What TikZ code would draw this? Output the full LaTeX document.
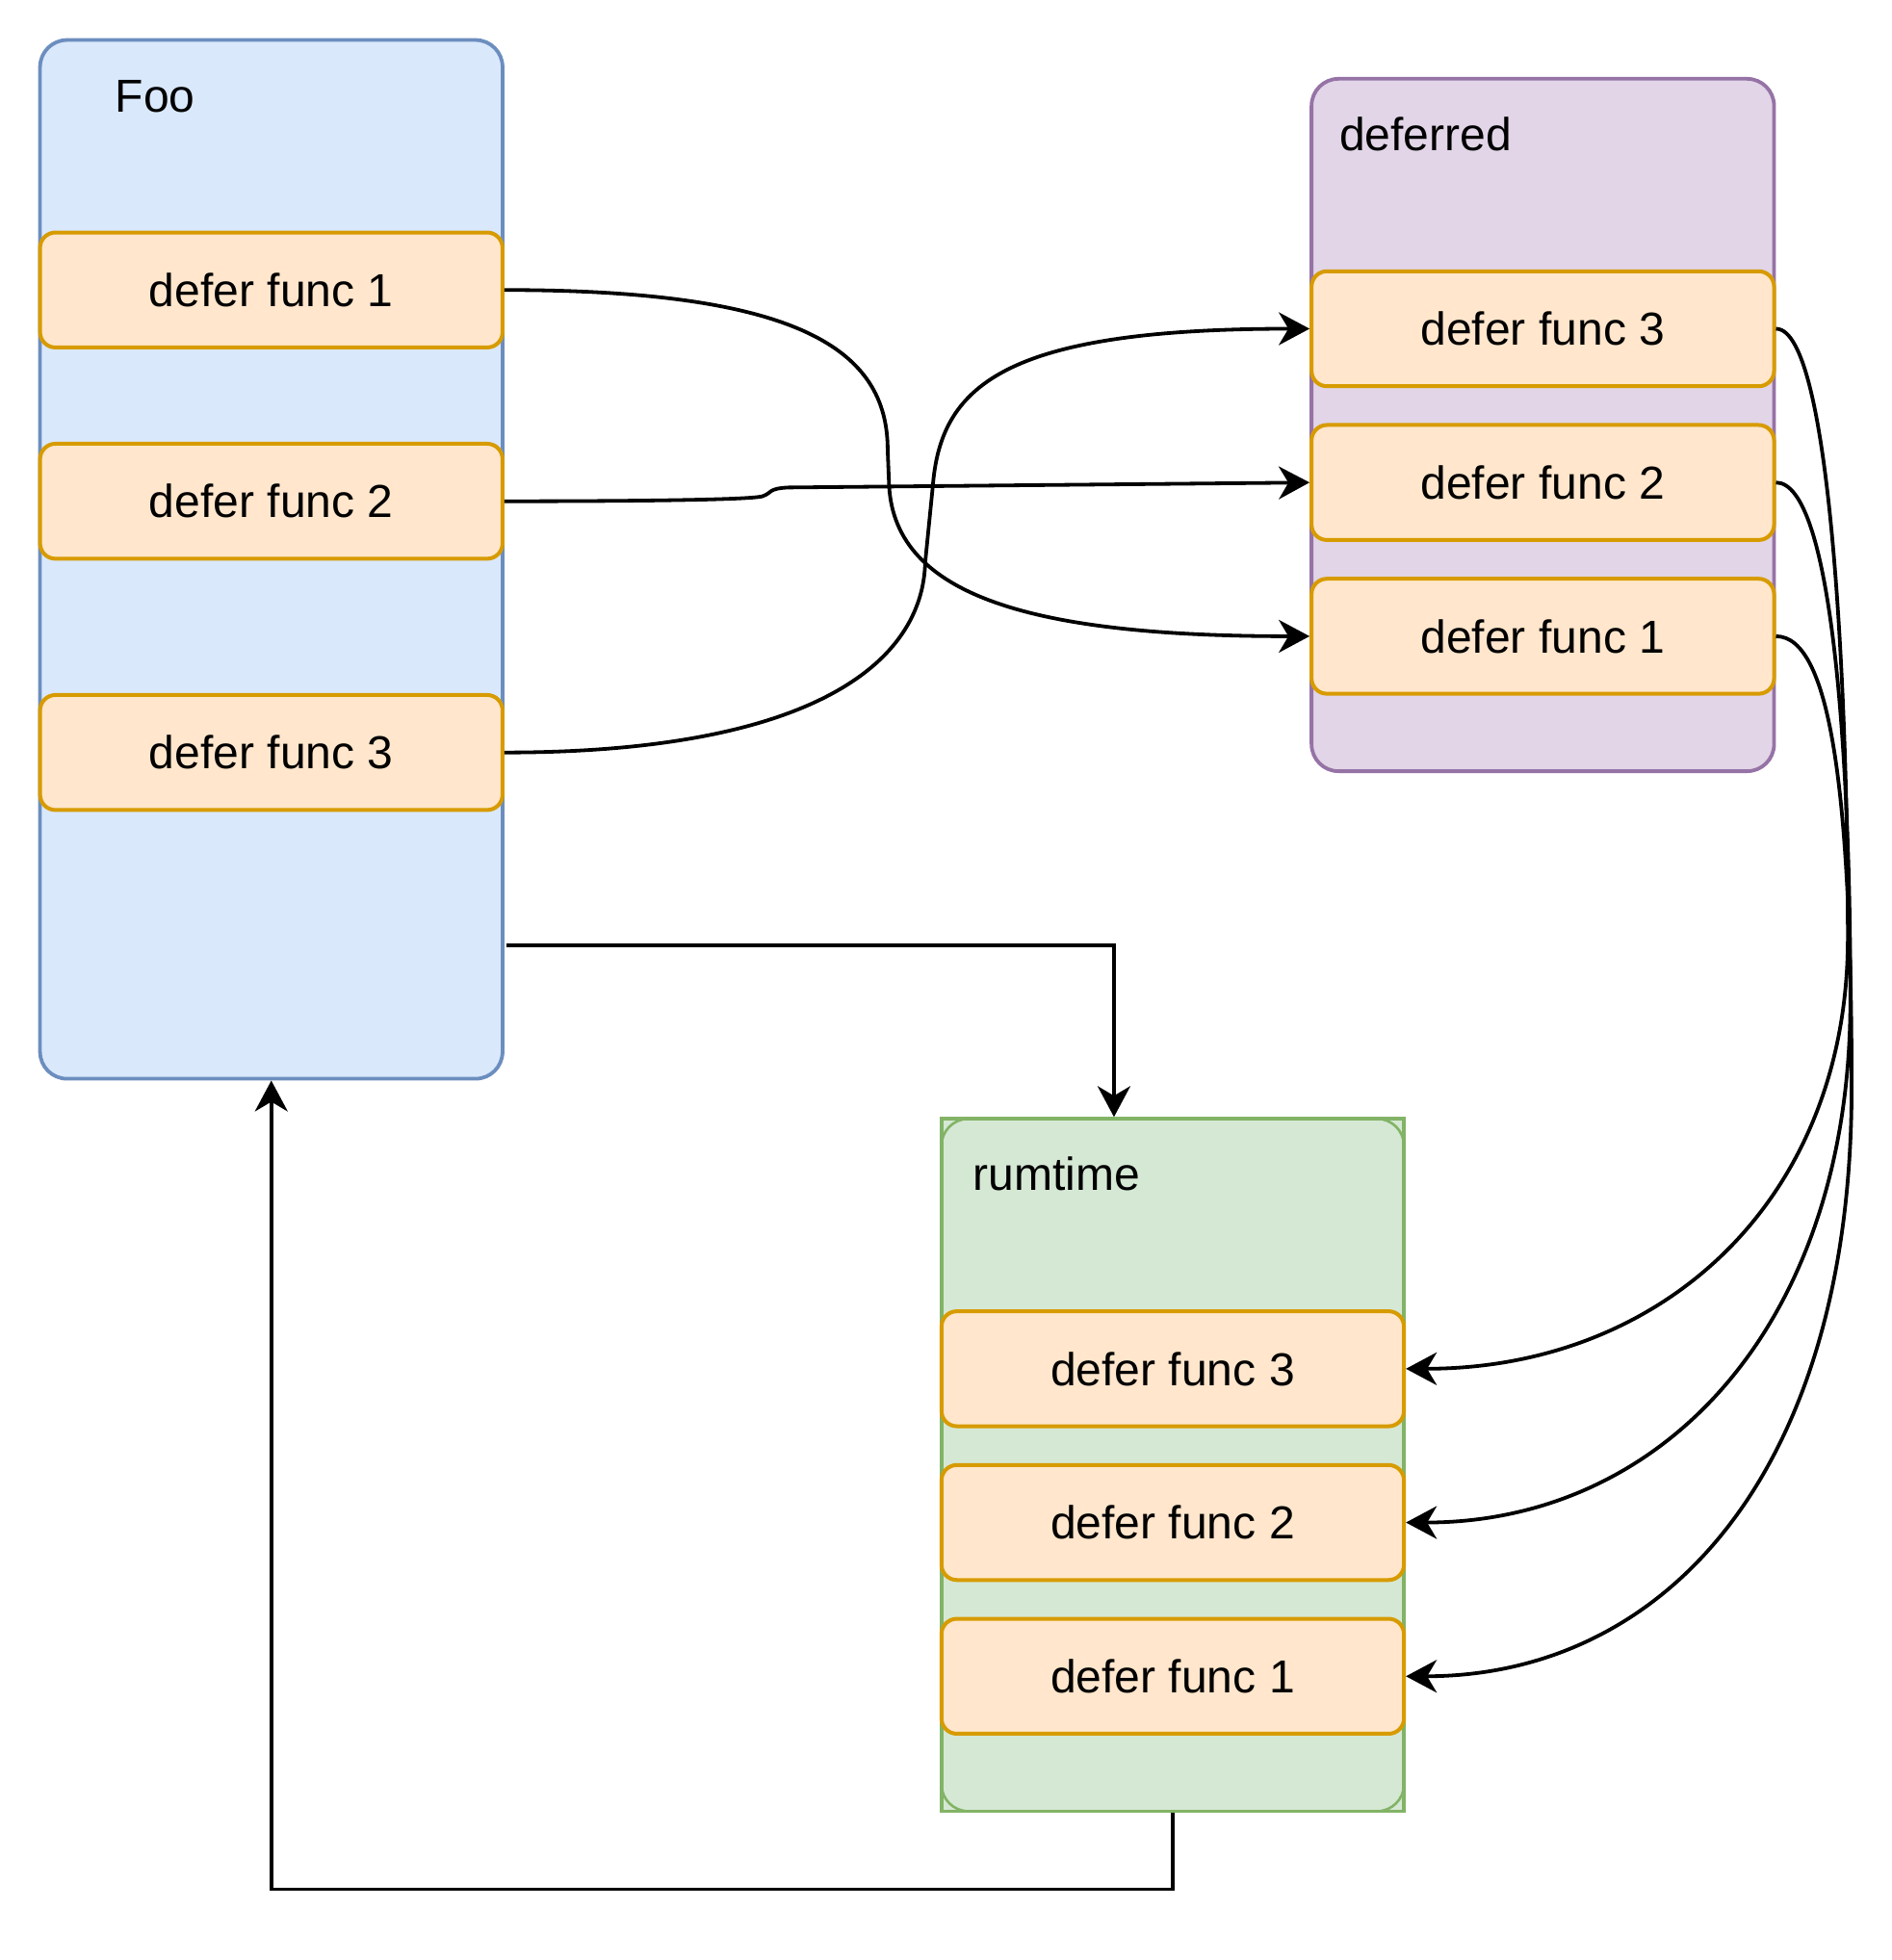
\documentclass[tikz,border=0pt]{standalone}
\usepackage{fontspec}
\setmainfont{Liberation Sans}
\usetikzlibrary{arrows.meta,calc}
\definecolor{fooFill}{HTML}{DAE8FC}
\definecolor{fooStroke}{HTML}{6C8EBF}
\definecolor{itemFill}{HTML}{FFE6CC}
\definecolor{itemStroke}{HTML}{D79B00}
\definecolor{defFill}{HTML}{E1D5E7}
\definecolor{defStroke}{HTML}{9673A6}
\definecolor{rtFill}{HTML}{D5E8D4}
\definecolor{rtStroke}{HTML}{82B366}
\begin{document}
\begin{tikzpicture}[x=0.649pt,y=-0.649pt,
  font=\fontsize{24pt}{28pt}\selectfont,
  container/.style={minimum width=240.1pt, minimum height=359.5pt, inner sep=0pt, line width=1.9pt, rounded corners=14pt},
  item/.style={draw=itemStroke, fill=itemFill, line width=2pt, rounded corners=8pt, minimum width=240.1pt, minimum height=59.7pt, inner sep=0pt},
  lbl/.style={anchor=west, inner sep=0pt},
  conn/.style={draw=black, line width=1.9pt, -{Stealth[length=16pt,width=17pt,inset=5pt]}},
  wire/.style={draw=black, line width=1.9pt}
]
\useasboundingbox (0,0) rectangle (1513,1568);

% containers
\node[container, draw=fooStroke, fill=fooFill, minimum height=539.3pt] (foo) at (217,447.5) {};
\node[container, draw=defStroke, fill=defFill] (def) at (1234,340) {};
\node[container, draw=rtStroke, fill=rtFill, sharp corners] (rt) at (938,1172) {};
\node[container, draw=rtStroke, line width=1.3pt] (rtInner) at (938,1172) {};

% labels
\node[lbl] (fooLbl) at (92,77) {Foo};
\node[lbl] (defLbl) at (1071,107) {deferred};
\node[lbl] (rtLbl) at (778,939) {rumtime};

% items
\node[item] (f1) at (217,232) {defer func 1};
\node[item] (f2) at (217,401) {defer func 2};
\node[item] (f3) at (217,602) {defer func 3};

\node[item] (d3) at (1234,263) {defer func 3};
\node[item] (d2) at (1234,386) {defer func 2};
\node[item] (d1) at (1234,509) {defer func 1};

\node[item] (r3) at (938,1095) {defer func 3};
\node[item] (r2) at (938,1218) {defer func 2};
\node[item] (r1) at (938,1341) {defer func 1};

% Foo -> deferred
\draw[conn] (f1.east) .. controls (640,232) and (710,280) .. (710,360)
  -- (711,385) .. controls (713,475) and (820,509) .. (d1.west);
\draw[conn] (f2.east) .. controls (500,401) and (600,400) .. (610,397)
  .. controls (618,394) and (614,391) .. (630,390) -- (d2.west);
\draw[conn] (f3.east) .. controls (650,602) and (738,530) .. (740,450)
  -- (746,390) .. controls (752,310) and (800,263) .. (d3.west);

% deferred -> runtime
\draw[conn] (d3.east) .. controls (1465,263) and (1478,560) .. (1478,750)
  .. controls (1478,960) and (1330,1095) .. (r3.east);
\draw[conn] (d2.east) .. controls (1465,386) and (1480,600) .. (1480,800)
  .. controls (1480,1060) and (1330,1218) .. (r2.east);
\draw[conn] (d1.east) .. controls (1465,509) and (1481,640) .. (1481,870)
  .. controls (1481,1180) and (1330,1341) .. (r1.east);

% Foo -> runtime, runtime -> Foo
\coordinate (fooOut) at (405,756);
\draw[conn] (fooOut) -| ([xshift=-30.5pt]rt.north);
\draw[conn] (rt.south) -- ++(0,61) -| (foo.south);
\end{tikzpicture}
\end{document}
